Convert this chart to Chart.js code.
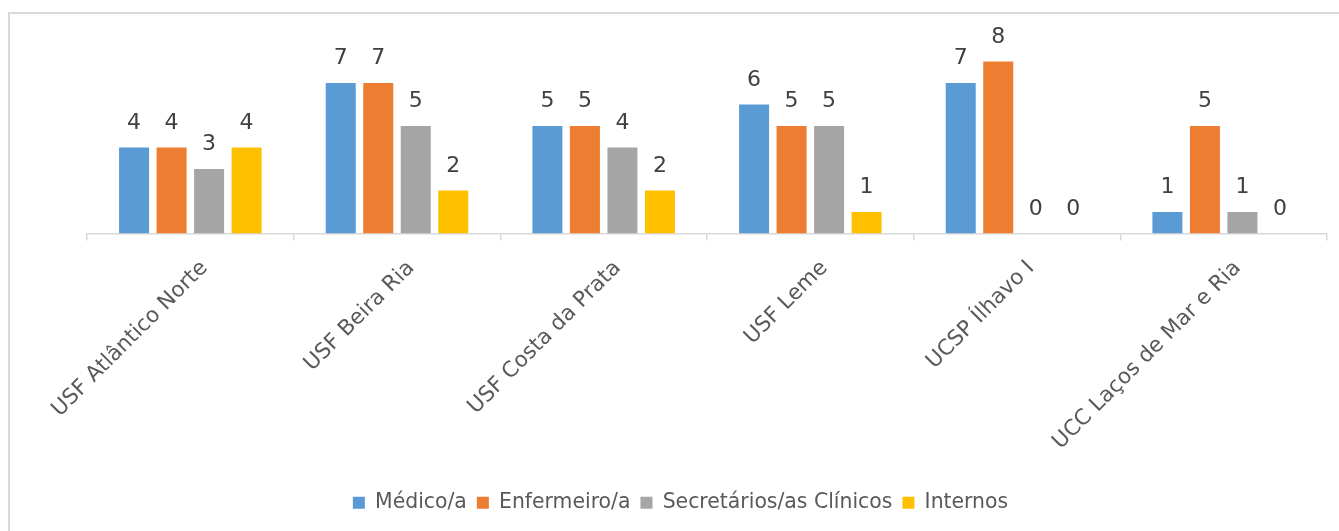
<!DOCTYPE html>
<html>
<head>
<meta charset="utf-8">
<script src="https://cdn.jsdelivr.net/npm/chart.js@4"></script>
<style>
  body { margin: 0; background: #fff; overflow: hidden; }
  #frame { position: absolute; left: 8px; top: 12px; width: 1400px; height: 600px; border: 2px solid #d9d9d9; }
  #wrap { position: absolute; left: 0; top: 0; width: 1339px; height: 531px; }
</style>
</head>
<body>
<div id="frame"></div>
<div id="wrap"><canvas id="chart"></canvas></div>
<script>
const categories = ["USF Atlântico Norte", "USF Beira Ria", "USF Costa da Prata", "USF Leme", "UCSP Ílhavo I", "UCC Laços de Mar e Ria"];
const medicos = [4, 7, 5, 6, 7, 1];
const enfermeiros = [4, 7, 5, 5, 8, 5];
const secretarios = [3, 5, 4, 5, 0, 1];
const internos = [4, 2, 2, 1, 0, 0];

const FONT = "'DejaVu Sans', sans-serif";

// draws the value above each bar
const valueLabels = {
  id: "valueLabels",
  afterDatasetsDraw(chart) {
    const ctx = chart.ctx;
    ctx.save();
    ctx.font = "22px " + FONT;
    ctx.fillStyle = "#404040";
    ctx.textAlign = "center";
    ctx.textBaseline = "alphabetic";
    chart.data.datasets.forEach((ds, i) => {
      chart.getDatasetMeta(i).data.forEach((bar, j) => {
        ctx.fillText(String(ds.data[j]), bar.x, bar.y - 19);
      });
    });
    ctx.restore();
  },
};

(function () {
  const grapharea = document.getElementById("chart");

  const data = {
    labels: categories,
    datasets: [
      { label: "Médico/a", data: medicos, backgroundColor: "#5B9BD5" },
      { label: "Enfermeiro/a", data: enfermeiros, backgroundColor: "#ED7D31" },
      { label: "Secretários/as Clínicos", data: secretarios, backgroundColor: "#A5A5A5" },
      { label: "Internos", data: internos, backgroundColor: "#FFC000" },
    ],
  };

  const config = {
    type: "bar",
    data: data,
    options: {
      responsive: true,
      maintainAspectRatio: false,
      animation: false,
      categoryPercentage: 0.726,
      barPercentage: 0.8,
      layout: {
        padding: { left: 34, right: 12, top: 40, bottom: 8 },
      },
      scales: {
        y: {
          min: 0,
          max: 9,
          afterFit(scale) {
            scale.width = 53;
          },
          grid: { display: false },
          border: { display: false },
          ticks: { display: false },
        },
        x: {
          afterFit(scale) {
            scale.height = 249;
          },
          grid: {
            offset: true,
            drawOnChartArea: false,
            color: "#d9d9d9",
            tickLength: 7,
            lineWidth: 1.5,
          },
          border: { color: "#d9d9d9", width: 1.5 },
          ticks: {
            autoSkip: false,
            minRotation: 45,
            maxRotation: 45,
            labelOffset: 14,
            padding: 15,
            color: "#595959",
            font: { family: FONT, size: 21.5 },
          },
        },
      },
      plugins: {
        legend: {
          position: "bottom",
          labels: {
            boxWidth: 12,
            boxHeight: 12,
            padding: 10,
            color: "#595959",
            font: { family: FONT, size: 20.4 },
          },
        },
        tooltip: { enabled: false },
      },
    },
    plugins: [valueLabels],
  };

  new Chart(grapharea, config);
})();
</script>
</body>
</html>
